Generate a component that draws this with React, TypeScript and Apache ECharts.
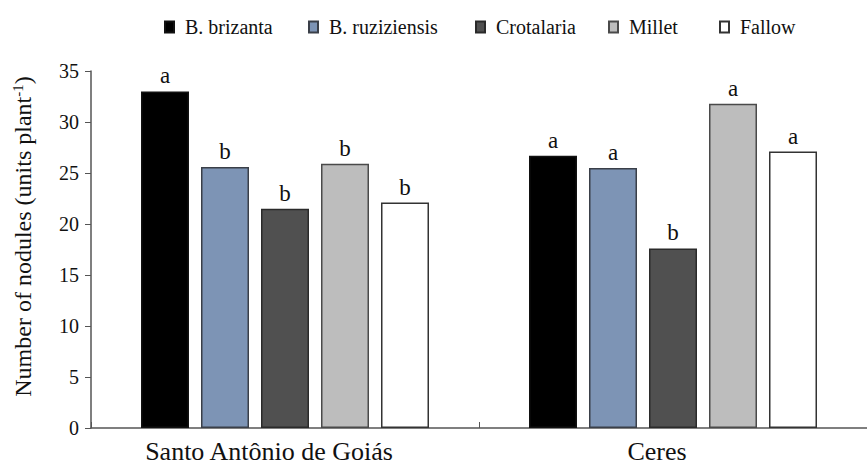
import React, { useEffect, useRef } from "react";
import * as echarts from "echarts";

const sites = ["Santo Antônio de Goiás", "Ceres"];
const seriesNames = ["B. brizanta", "B. ruziziensis", "Crotalaria", "Millet", "Fallow"];
const brizanta = [33.0, 26.7];
const ruziziensis = [25.6, 25.5];
const crotalaria = [21.5, 17.6];
const millet = [25.9, 31.8];
const fallow = [22.1, 27.1];
const brizantaLetters = ["a", "a"];
const ruziziensisLetters = ["b", "a"];
const crotalariaLetters = ["b", "b"];
const milletLetters = ["b", "a"];
const fallowLetters = ["b", "a"];
const yTicks = [0, 5, 10, 15, 20, 25, 30, 35];

const FONT = "Liberation Serif";

export default function App() {
  const ref = useRef<HTMLDivElement>(null);
  useEffect(() => {
    if (!ref.current) return;
    const chart = echarts.init(ref.current, null, { renderer: "svg" });
    const values = [brizanta, ruziziensis, crotalaria, millet, fallow];
    const letters = [brizantaLetters, ruziziensisLetters, crotalariaLetters, milletLetters, fallowLetters];
    const fills = ["#000000", "#7d94b5", "#505050", "#bdbdbd", "#ffffff"];
    const borders = ["#111111", "#3a3f48", "#2a2a2a", "#4a4a4a", "#333333"];
    const legendLeft = [159, 303, 470, 603, 714];

    const series = seriesNames.map((name, i) => ({
      name,
      type: "bar",
      data: values[i],
      barWidth: 48,
      barGap: "25%",
      itemStyle: { color: fills[i], borderColor: borders[i], borderWidth: 1.5 },
      label: {
        show: true,
        position: "top",
        distance: 4,
        formatter: (p: any) => letters[i][p.dataIndex],
        fontFamily: FONT,
        fontSize: 23,
        fontWeight: "normal",
        color: "#111",
      },
    }));

    chart.setOption({
      animation: false,
      backgroundColor: "#ffffff",
      textStyle: { fontFamily: FONT },
      legend: seriesNames.map((name, i) => ({
        data: [name],
        left: legendLeft[i],
        top: 12,
        itemWidth: 9,
        itemHeight: 11,
        icon: "rect",
        selectedMode: false,
        textStyle: { fontFamily: FONT, fontSize: 20, color: "#111", padding: [0, 0, 0, 6] },
      })),
      grid: { left: 91, right: -7, top: 71, bottom: 38, containLabel: false },
      xAxis: {
        type: "category",
        data: sites,
        axisLine: { lineStyle: { color: "#555", width: 1.5 } },
        axisTick: { show: true, inside: true, length: 6, lineStyle: { color: "#555" } },
        axisLabel: {
          fontFamily: FONT,
          fontSize: 26,
          color: "#111",
          margin: 10,
          padding: [0, 32, 0, 0],
        },
      },
      yAxis: {
        type: "value",
        min: 0,
        max: 35,
        interval: 5,
        name: "Number of nodules (units plant{sup|-1})",
        nameLocation: "middle",
        nameGap: 56,
        nameTextStyle: {
          fontFamily: FONT,
          fontSize: 24,
          color: "#111",
          padding: [0, 0, 0, 26],
          rich: { sup: { fontFamily: FONT, fontSize: 15, color: "#111", verticalAlign: "top", padding: [0, 0, 10, 0] } },
        },
        axisLine: { show: true, lineStyle: { color: "#555", width: 1.5 } },
        axisTick: { show: true, inside: false, length: 6, lineStyle: { color: "#555" } },
        axisLabel: {
          fontFamily: FONT,
          fontSize: 20,
          color: "#111",
          margin: 12,
          formatter: (v: number) => (yTicks.includes(v) ? String(v) : ""),
        },
        splitLine: { show: false },
      },
      series,
    });
    return () => chart.dispose();
  }, []);
  return (
    <div
      ref={ref}
      style={{ position: "fixed", left: 0, top: 0, width: 867, height: 466, background: "#fff" }}
    />
  );
}
